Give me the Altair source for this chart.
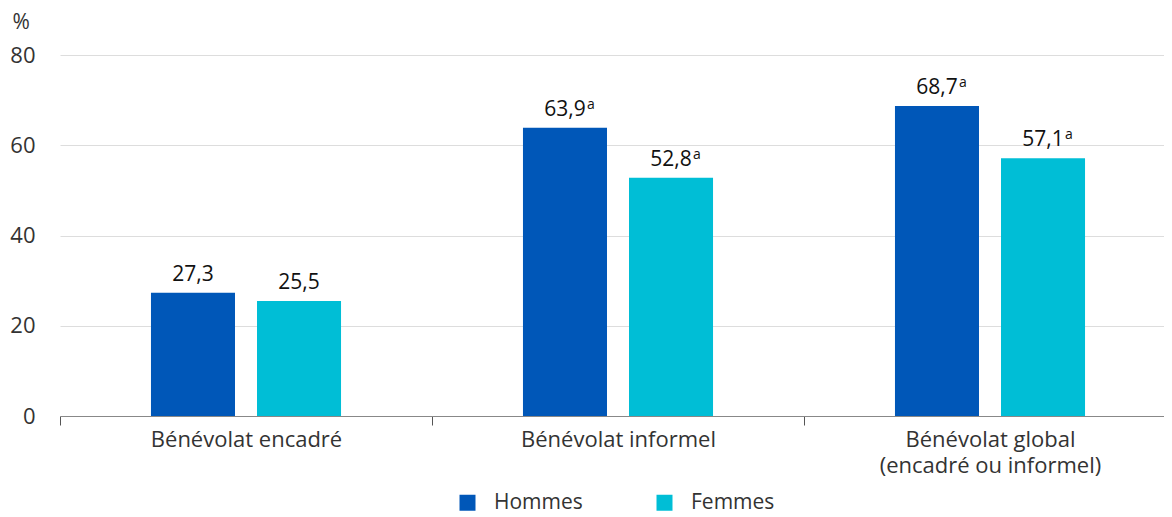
import altair as alt
import pandas as pd

categories = ["Bénévolat encadré", "Bénévolat informel", "Bénévolat global\n(encadré ou informel)"]
series = ["Hommes", "Femmes"]
hommes = [27.3, 63.9, 68.7]
femmes = [25.5, 52.8, 57.1]
hommes_sup = ["", "a", "a"]
femmes_sup = ["", "a", "a"]
colors = ["#0057b8", "#00bed6"]

rows = []
for i, c in enumerate(categories):
    rows.append({"cat": c, "sexe": "Hommes", "val": hommes[i], "sup": hommes_sup[i]})
    rows.append({"cat": c, "sexe": "Femmes", "val": femmes[i], "sup": femmes_sup[i]})
df = pd.DataFrame(rows)
df["lab"] = df["val"].map(lambda v: f"{v:.1f}".replace(".", ","))

FONT = "Open Sans"

x = alt.X("cat:N", sort=categories,
          scale=alt.Scale(paddingInner=0, paddingOuter=0, range=[0, 1116]),
          axis=alt.Axis(title=None, labelAngle=0, labelFontSize=22, labelColor="#333333",
                        labelFont=FONT, labelPadding=4, tickSize=9, tickColor="#555555",
                        tickBand="extent", domainColor="#888888", domainWidth=1.2,
                        labelLimit=0, labelLineHeight=26,
                        labelExpr="split(datum.label, '\\n')"))
xo = alt.XOffset("sexe:N", sort=series,
                 scale=alt.Scale(paddingInner=0.2075, paddingOuter=0.858))

base = alt.Chart(df)

bars = base.mark_bar().encode(
    x=x, xOffset=xo,
    y=alt.Y("val:Q", scale=alt.Scale(domain=[0, 80]),
            axis=alt.Axis(values=[0, 20, 40, 60, 80], title="%", titleAngle=0,
                          titleAlign="left", titleBaseline="alphabetic", titleX=-48, titleY=-27,
                          titleFontSize=21, titleFont=FONT, titleFontWeight="normal",
                          titleColor="#333333", labelFontSize=22, labelFont=FONT,
                          labelColor="#333333", labelPadding=25, tickSize=0, domain=False,
                          gridColor="#dddddd", gridWidth=1)),
    color=alt.Color("sexe:N", sort=series, scale=alt.Scale(domain=series, range=colors),
                    legend=alt.Legend(title=None, orient="none", legendX=397, legendY=437,
                                      direction="horizontal", symbolType="square",
                                      symbolSize=256, symbolStrokeWidth=0, labelFontSize=21,
                                      labelFont=FONT, labelColor="#333333", labelOffset=16,
                                      columnPadding=71, padding=0)),
)

labels = base.mark_text(fontSize=21, font=FONT, color="#111111", baseline="alphabetic",
                        align="center", dy=-12).encode(
    x=x, xOffset=xo, y="val:Q", text="lab:N")

sups = base.mark_text(fontSize=14, font=FONT, color="#111111", baseline="alphabetic",
                      align="left", dx=22, dy=-19).encode(
    x=x, xOffset=xo, y="val:Q", text="sup:N")

chart = alt.layer(bars, labels, sups).properties(
    width=1104, height=361,
    autosize=alt.AutoSizeParams(type="none"),
    padding={"left": 52, "top": 47, "right": 0, "bottom": 100},
).configure_view(stroke=None).configure_axisY(grid=True).configure_axisX(grid=False)

chart.save("out.html", embed_options={"renderer": "svg", "actions": False})
